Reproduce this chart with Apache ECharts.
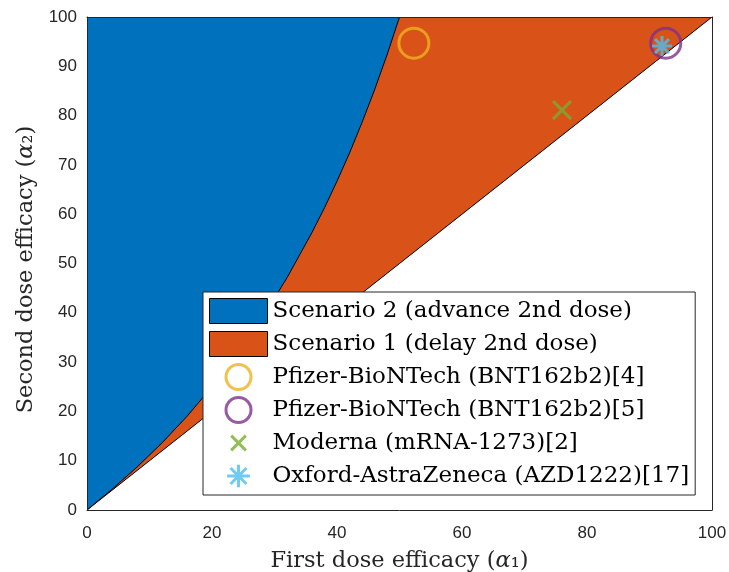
<!DOCTYPE html>
<html>
<head>
<meta charset="utf-8">
<script src="https://cdn.jsdelivr.net/npm/echarts@6/dist/echarts.min.js"></script>
<style>
html,body{margin:0;padding:0;background:#fff;}
#chart{width:729px;height:572px;}
</style>
</head>
<body>
<div id="chart"></div>
<script>
// Boundary curve between Scenario 2 (left) and Scenario 1 (right)
const curveX = [0, 4, 8, 12, 16, 20, 24, 28, 32, 36, 38, 40, 42, 44, 46, 48, 50];
const curveY = [0, 4.2, 8.7, 13.6, 19, 25, 31.6, 38.9, 47.1, 56.3, 61.3, 66.7, 72.4, 78.6, 85.2, 92.3, 100];
// Diagonal (alpha2 = alpha1)
const diagX = [0, 100];
const diagY = [0, 100];
// Vaccines
const vaccineNames = [
  'Pfizer-BioNTech (BNT162b2)[4]',
  'Pfizer-BioNTech (BNT162b2)[5]',
  'Moderna (mRNA-1273)[2]',
  'Oxford-AstraZeneca (AZD1222)[17]'
];
const firstDose = [52.3, 92.6, 76, 92];
const secondDose = [94.7, 94.7, 81.1, 94.1];
const regionNames = ['Scenario 2 (advance 2nd dose)', 'Scenario 1 (delay 2nd dose)'];
const xTickStep = 20;
const yTickStep = 10;

const X_PATH = 'path://M-5,-5L5,5M5,-5L-5,5';
const X_LEGEND = 'path://M-8.5,-8.5M8.5,8.5M-5,-5L5,5M5,-5L-5,5';
const AST_PATH = 'path://M0,-10L0,10M-10,0L10,0M-7,-7L7,7M-7,7L7,-7';
const AST_LEGEND = 'path://M-11,-11M11,11M0,-10L0,10M-10,0L10,0M-7,-7L7,7M-7,7L7,-7';

const BLUE = '#0072BD', ORANGE = '#D95319', YELLOW = '#EDB120', PURPLE = '#7E2F8E', GREEN = '#77AC30', CYAN = '#4DBEEE';
const AX = '#262626';
const serif = 'DejaVu Serif';

const chart = echarts.init(document.getElementById('chart'), null, {renderer: 'canvas'});

const baseAxis = {
  min: 0, max: 100,
  axisLine: {show: true, onZero: false, lineStyle: {color: AX, width: 1}},
  axisTick: {show: false},
  splitLine: {show: false},
  z: 10
};
const rich = {i: {fontFamily: serif, fontSize: 22.5, fontStyle: 'italic', color: AX}};

const option = {
  animation: false,
  backgroundColor: '#fff',
  grid: {left: 87, right: 17, top: 17, bottom: 62, containLabel: false, outerBoundsMode: 'none'},
  xAxis: [
    Object.assign({}, baseAxis, {
      type: 'value', position: 'bottom', interval: xTickStep,
      axisLabel: {color: AX, fontFamily: 'Liberation Sans', fontSize: 17, margin: 15},
      name: 'First dose efficacy ({i|α}₁)',
      nameLocation: 'middle', nameGap: 40,
      nameTextStyle: {fontFamily: serif, fontSize: 22.5, color: AX, rich: rich}
    }),
    Object.assign({}, baseAxis, {
      type: 'value', position: 'top', interval: xTickStep, axisLabel: {show: false}
    })
  ],
  yAxis: [
    Object.assign({}, baseAxis, {
      type: 'value', position: 'left', interval: yTickStep,
      axisLabel: {color: AX, fontFamily: 'Liberation Sans', fontSize: 17, margin: 10},
      name: 'Second dose efficacy ({i|α}₂)',
      nameLocation: 'middle', nameGap: 49,
      nameTextStyle: {fontFamily: serif, fontSize: 22.5, color: AX, rich: rich, padding: [0, 12, 0, 0]}
    }),
    Object.assign({}, baseAxis, {
      type: 'value', position: 'right', interval: yTickStep, axisLabel: {show: false}
    })
  ],
  legend: {
    orient: 'vertical', left: 203, top: 292,
    padding: [4, 6, 4, 6],
    itemWidth: 58, itemHeight: 25, itemGap: 3,
    backgroundColor: '#fff', borderColor: AX, borderWidth: 1,
    selectedMode: false,
    textStyle: {fontFamily: serif, fontSize: 23, lineHeight: 30, color: '#000'},
    data: [
      {name: regionNames[0], icon: 'rect', itemStyle: {color: BLUE, borderColor: '#000', borderWidth: 1}},
      {name: regionNames[1], icon: 'rect', itemStyle: {color: ORANGE, borderColor: '#000', borderWidth: 1}},
      {name: vaccineNames[0], icon: 'circle', itemStyle: {color: 'none', borderColor: YELLOW, borderWidth: 3}},
      {name: vaccineNames[1], icon: 'circle', itemStyle: {color: 'none', borderColor: PURPLE, borderWidth: 3}},
      {name: vaccineNames[2], icon: X_LEGEND, itemStyle: {color: 'none', borderColor: GREEN, borderWidth: 3}},
      {name: vaccineNames[3], icon: AST_LEGEND, itemStyle: {color: 'none', borderColor: CYAN, borderWidth: 3}}
    ]
  },
  series: [
    {
      name: regionNames[1], type: 'line', color: ORANGE,
      data: diagX.map((x, i) => [x, diagY[i]]),
      showSymbol: false, symbol: 'none',
      lineStyle: {color: '#000', width: 1},
      areaStyle: {color: ORANGE, opacity: 1, origin: 'end'},
      z: 2
    },
    {
      name: regionNames[0], type: 'line', color: BLUE,
      data: curveX.map((x, i) => [x, curveY[i]]),
      showSymbol: false, symbol: 'none',
      lineStyle: {color: '#000', width: 1},
      areaStyle: {color: BLUE, opacity: 1, origin: 'end'},
      z: 3
    },
    {
      name: vaccineNames[0], type: 'scatter', symbol: 'circle', symbolSize: 30,
      data: [[firstDose[0], secondDose[0]]],
      itemStyle: {color: 'none', borderColor: YELLOW, borderWidth: 3}, z: 5
    },
    {
      name: vaccineNames[1], type: 'scatter', symbol: 'circle', symbolSize: 30,
      data: [[firstDose[1], secondDose[1]]],
      itemStyle: {color: 'none', borderColor: PURPLE, borderWidth: 3}, z: 5
    },
    {
      name: vaccineNames[2], type: 'scatter', symbol: X_PATH, symbolSize: 18, symbolKeepAspect: true,
      data: [[firstDose[2], secondDose[2]]],
      itemStyle: {color: 'none', borderColor: GREEN, borderWidth: 3}, z: 5
    },
    {
      name: vaccineNames[3], type: 'scatter', symbol: AST_PATH, symbolSize: 20, symbolKeepAspect: true,
      data: [[firstDose[3], secondDose[3]]],
      itemStyle: {color: 'none', borderColor: CYAN, borderWidth: 3}, z: 6
    }
  ]
};
chart.setOption(option);
</script>
</body>
</html>
